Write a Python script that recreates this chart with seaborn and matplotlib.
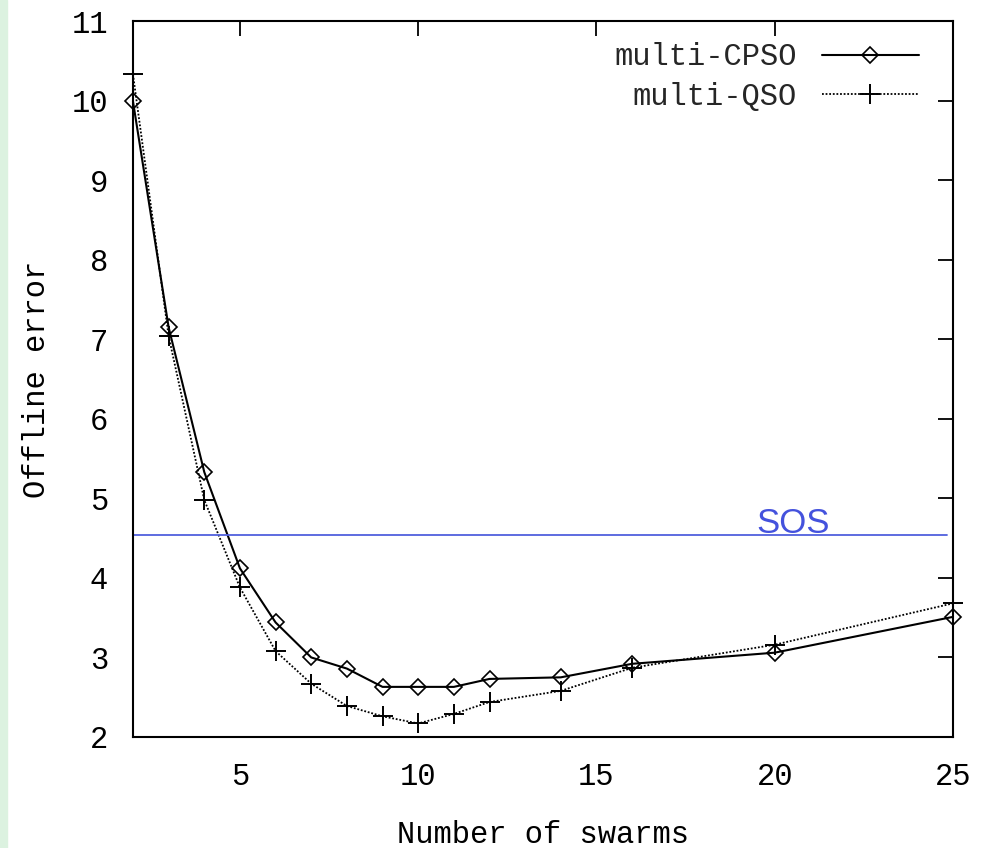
import matplotlib
matplotlib.use("Agg")
import matplotlib.pyplot as plt
import seaborn as sns
import pandas as pd
from matplotlib.patches import Rectangle

sns.set_style("white")
plt.rcParams["font.family"] = ["Liberation Mono", "DejaVu Sans Mono"]

# data
swarms = [2, 3, 4, 5, 6, 7, 8, 9, 10, 11, 12, 14, 16, 20, 25]
cpso = [9.99, 7.15, 5.33, 4.12, 3.44, 3.00, 2.86, 2.63, 2.63, 2.63, 2.73, 2.75, 2.92, 3.06, 3.51]
qso = [10.33, 7.04, 4.98, 3.88, 3.08, 2.67, 2.39, 2.26, 2.17, 2.29, 2.44, 2.58, 2.87, 3.16, 3.68]
sos_level = 4.54

df = pd.DataFrame({"swarms": swarms, "multi-CPSO": cpso, "multi-QSO": qso})

fig = plt.figure(figsize=(9.85, 8.48), dpi=100)
fig.patches.append(Rectangle((0, 0), 0.0075, 1, transform=fig.transFigure,
                             color="#dcf2e0", zorder=0))
ax = fig.add_axes([0.135, 0.1309, 0.8325, 0.8443])

sns.lineplot(data=df, x="swarms", y="multi-CPSO", ax=ax, color="black",
             linewidth=1.5, marker="D", markersize=8, markerfacecolor="none",
             markeredgecolor="black", markeredgewidth=1.2, label="multi-CPSO",
             clip_on=False)
sns.lineplot(data=df, x="swarms", y="multi-QSO", ax=ax, color="black",
             linewidth=1.3, linestyle=(0, (1, 1)), marker="+", markersize=14,
             markeredgecolor="black", markeredgewidth=1.4, label="multi-QSO",
             clip_on=False)

# SOS reference level
ax.axhline(sos_level, xmin=0, xmax=0.993, color="#5060dd", linewidth=1.3)
ax.text(19.48, sos_level + 0.03, "SOS", color="#4452dd", fontsize=25,
        family="Liberation Sans", ha="left", va="baseline")

ax.set_xlim(2, 25)
ax.set_ylim(2, 11)
ax.set_xticks([5, 10, 15, 20, 25])
ax.set_yticks(range(2, 12))
ax.tick_params(direction="in", length=11, width=1.3, top=True, right=True,
               labelsize=22, pad=18, colors="black")
for s in ax.spines.values():
    s.set_color("black")
    s.set_linewidth(1.5)

ax.set_xlabel("Number of swarms", fontsize=22, labelpad=20, color="black")
ax.set_ylabel("Offline error", fontsize=22, labelpad=14, color="black")

ax.legend(loc="upper right", frameon=False, markerfirst=False, fontsize=22,
          handlelength=3.2, handletextpad=0.8, borderaxespad=0.3,
          labelspacing=0.3, bbox_to_anchor=(0.985, 1.0))

fig.savefig("out.png", dpi=100)
